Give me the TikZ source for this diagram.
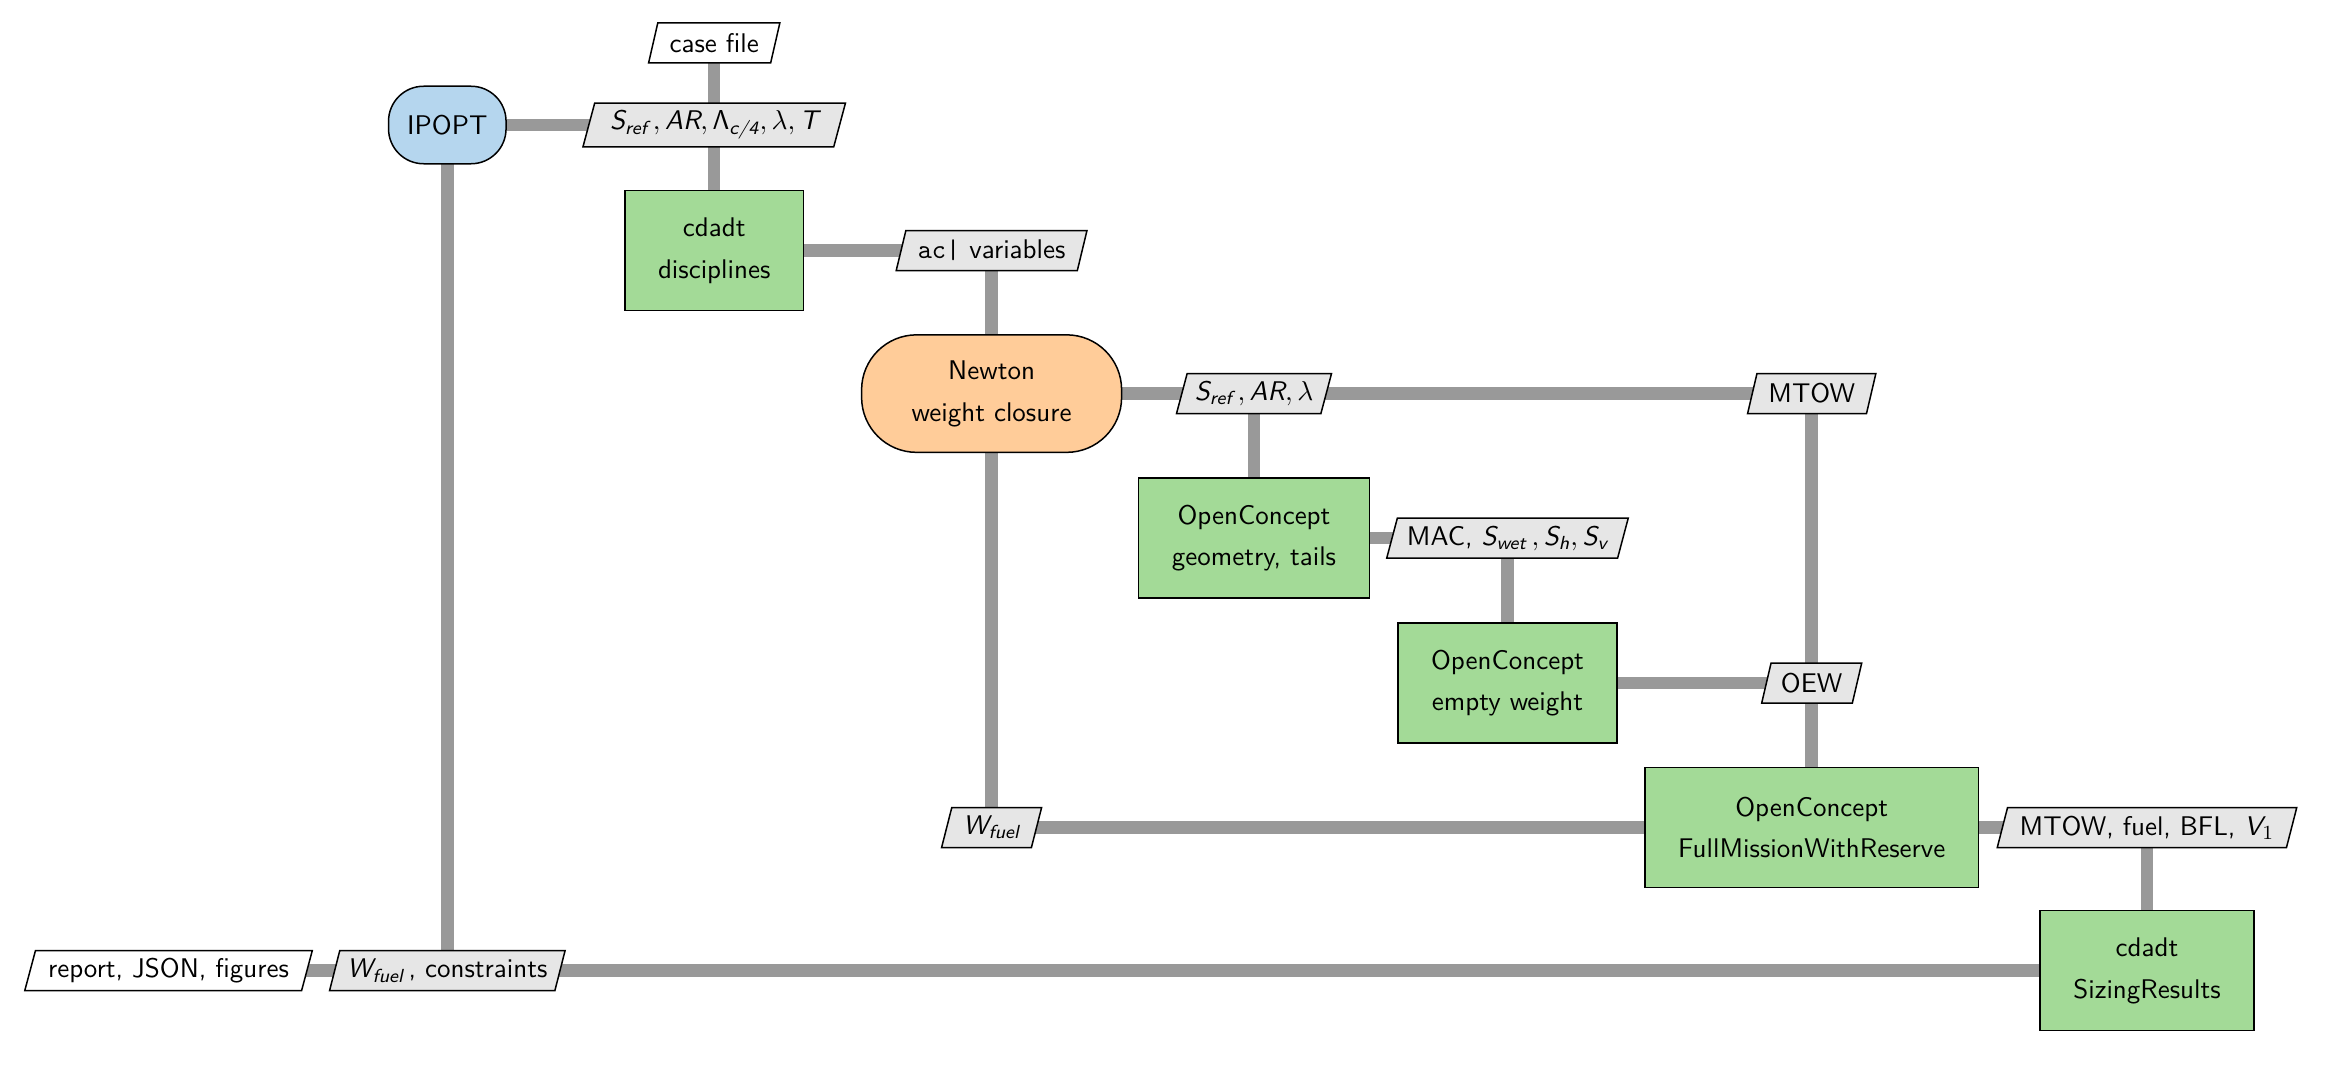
\documentclass[tikz,border=0pt]{standalone}
\usepackage{amsmath}
\usetikzlibrary{shapes.geometric,backgrounds}
\DeclareMathAlphabet{\mathsfo}{OT1}{cmss}{m}{n}
\definecolor{dlgray}{HTML}{999999}
\definecolor{fgreen}{HTML}{A3DA97}
\definecolor{optblue}{HTML}{B5D6EE}
\definecolor{mdaorange}{HTML}{FFCC99}
\definecolor{datagray}{HTML}{E6E6E6}
\newcommand{\vi}[1]{\textit{#1}}
\tikzset{
 base/.style={draw=black, line width=0.6pt, font=\sffamily\fontsize{10.8}{12.8}\selectfont, align=center},
 func/.style={base, rectangle, fill=fgreen, minimum height=48pt, inner xsep=13.3pt},
 opt/.style={base, rectangle, rounded corners=14pt, fill=optblue, minimum height=31pt, minimum width=47pt, inner xsep=6pt},
 mda/.style={base, rectangle, rounded corners=22pt, fill=mdaorange, minimum height=47pt, minimum width=104pt},
 dataio/.style={base, trapezium, trapezium left angle=75, trapezium right angle=105, trapezium stretches body, fill=datagray, inner xsep=0.5pt, inner ysep=3pt, minimum height=16pt},
 inout/.style={dataio, fill=white},
 dline/.style={draw=dlgray, line width=5pt},
}
\begin{document}
\begin{tikzpicture}[x=0.4pt,y=-0.4pt]
\useasboundingbox (0,0) rectangle (2338,1079);
% nodes
\node[opt] (ipopt) at (447.3,125) {IPOPT};
\node[inout, minimum width=52.5pt] (casefile) at (714.2,43) {case file};
\node[dataio, minimum width=105pt] (d1) at (714.2,125) {$\vi{S}_{\vi{ref}}\,, \vi{AR}, \mathsfo{\Lambda}_{\vi{c/4}}, \lambda, \vi{T}$};
\node[func] (cdadt) at (714.2,250.5) {cdadt\\[3.9pt]disciplines};
\node[dataio, minimum width=76.3pt] (acv) at (991.6,250.5) {\texttt{ac|} variables};
\node[mda] (newton) at (991.6,393.6) {Newton\\[3.9pt]weight closure};
\node[dataio, minimum width=62pt] (d3) at (1254,393.6) {$\vi{S}_{\vi{ref}}\,, \vi{AR}, \lambda$};
\node[dataio, minimum width=51.3pt] (mtow) at (1811.7,393.6) {MTOW};
\node[func] (ocgeo) at (1254,538) {OpenConcept\\[3.9pt]geometry, tails};
\node[dataio, minimum width=96.6pt] (mac) at (1507.5,538) {MAC, $\vi{S}_{\vi{wet}}\,, \vi{S}_{\vi{h}}, \vi{S}_{\vi{v}}$};
\node[func] (ocew) at (1507.5,683) {OpenConcept\\[3.9pt]empty weight};
\node[dataio, minimum width=40pt] (oew) at (1811.7,683) {OEW};
\node[dataio, minimum width=40pt] (wfuel) at (991.6,827.5) {$\vi{W}_{\vi{fuel}}$};
\node[func] (ocfm) at (1811.7,827.5) {OpenConcept\\[3.9pt]FullMissionWithReserve};
\node[dataio, minimum width=119.8pt] (outfm) at (2147,827.5) {MTOW, fuel, BFL, $\vi{V}_{1}$};
\node[func] (sizing) at (2147,970.7) {cdadt\\[3.9pt]SizingResults};
\node[dataio, minimum width=94.2pt] (wfc) at (447.3,970.7) {$\vi{W}_{\vi{fuel}}\,$, constraints};
\node[inout, minimum width=115pt] (report) at (168.5,970.7) {report, JSON, figures};
% connectors
\begin{scope}[on background layer]
\draw[dline] (casefile.center) -- (d1.center) -- (cdadt.center);
\draw[dline] (ipopt.center) -- (d1.center);
\draw[dline] (cdadt.center) -- (acv.center) -- (newton.center);
\draw[dline] (newton.center) -- (d3.center) -- (mtow.center);
\draw[dline] (d3.center) -- (ocgeo.center);
\draw[dline] (ocgeo.center) -- (mac.center) -- (ocew.center);
\draw[dline] (ocew.center) -- (oew.center);
\draw[dline] (mtow.center) -- (oew.center) -- (ocfm.center);
\draw[dline] (newton.center) -- (wfuel.center) -- (ocfm.center);
\draw[dline] (ocfm.center) -- (outfm.center) -- (sizing.center);
\draw[dline] (sizing.center) -- (wfc.center) -- (report.center);
\draw[dline] (ipopt.center) -- (wfc.center);
\end{scope}
\end{tikzpicture}
\end{document}
